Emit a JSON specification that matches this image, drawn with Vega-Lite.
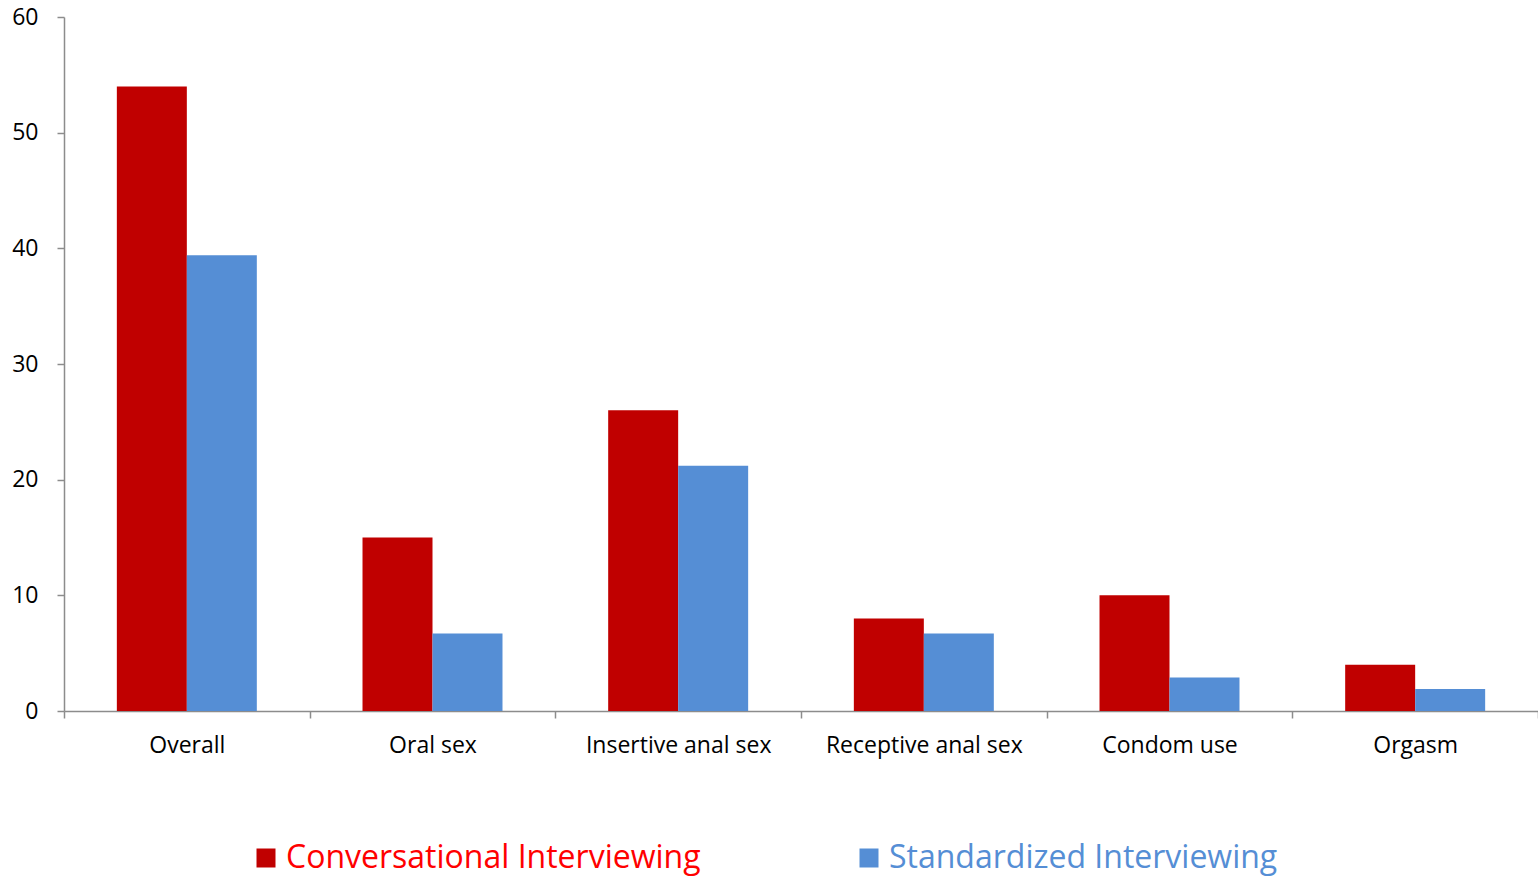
{
  "$schema": "https://vega.github.io/schema/vega-lite/v6.json",
  "autosize": {"type": "none"},
  "width": 1474,
  "height": 694,
  "padding": {"left": 64, "top": 17, "right": 0, "bottom": 165},
  "background": "white",
  "data": {
    "values": [
      {"category": "Overall", "method": "Conversational Interviewing", "value": 54},
      {"category": "Overall", "method": "Standardized Interviewing", "value": 39.4},
      {"category": "Oral sex", "method": "Conversational Interviewing", "value": 15},
      {"category": "Oral sex", "method": "Standardized Interviewing", "value": 6.7},
      {"category": "Insertive anal sex", "method": "Conversational Interviewing", "value": 26},
      {"category": "Insertive anal sex", "method": "Standardized Interviewing", "value": 21.2},
      {"category": "Receptive anal sex", "method": "Conversational Interviewing", "value": 8},
      {"category": "Receptive anal sex", "method": "Standardized Interviewing", "value": 6.7},
      {"category": "Condom use", "method": "Conversational Interviewing", "value": 10},
      {"category": "Condom use", "method": "Standardized Interviewing", "value": 2.9},
      {"category": "Orgasm", "method": "Conversational Interviewing", "value": 4},
      {"category": "Orgasm", "method": "Standardized Interviewing", "value": 1.9}
    ]
  },
  "mark": {"type": "bar"},
  "encoding": {
    "x": {
      "field": "category",
      "type": "nominal",
      "sort": null,
      "scale": {"paddingInner": 0, "paddingOuter": 0},
      "axis": {
        "title": null,
        "labelAngle": 0,
        "labelFont": "Open Sans",
        "labelFontSize": 23,
        "labelColor": "#000000",
        "labelPadding": 16,
        "labelLimit": 400,
        "domainColor": "#8c8c8c",
        "domainWidth": 1.5,
        "tickColor": "#8c8c8c",
        "tickWidth": 1.5,
        "tickSize": 7,
        "tickBand": "extent"
      }
    },
    "xOffset": {
      "field": "method",
      "type": "nominal",
      "sort": null,
      "scale": {"paddingInner": 0, "paddingOuter": 0.755}
    },
    "y": {
      "field": "value",
      "type": "quantitative",
      "scale": {"domain": [0, 60], "nice": false},
      "axis": {
        "title": null,
        "values": [0, 10, 20, 30, 40, 50, 60],
        "grid": false,
        "labelFont": "Open Sans",
        "labelFontSize": 23,
        "labelColor": "#000000",
        "labelPadding": 19,
        "domainColor": "#8c8c8c",
        "domainWidth": 1.5,
        "tickColor": "#8c8c8c",
        "tickWidth": 1.5,
        "tickSize": 7
      }
    },
    "color": {
      "field": "method",
      "type": "nominal",
      "sort": null,
      "scale": {
        "domain": ["Conversational Interviewing", "Standardized Interviewing"],
        "range": ["#c00000", "#558ed5"]
      },
      "legend": {
        "title": null,
        "orient": "none",
        "legendX": 186,
        "legendY": 825,
        "direction": "horizontal",
        "symbolType": "square",
        "symbolSize": 361,
        "symbolStrokeWidth": 0,
        "labelFont": "Open Sans",
        "labelFontSize": 32,
        "labelOffset": 4,
        "columnPadding": 152,
        "labelLimit": 700,
        "encode": {
          "labels": {
            "update": {
              "fill": {"signal": "datum.value === 'Conversational Interviewing' ? '#ff0000' : '#558ed5'"}
            }
          }
        }
      }
    }
  },
  "config": {"view": {"stroke": null}}
}
